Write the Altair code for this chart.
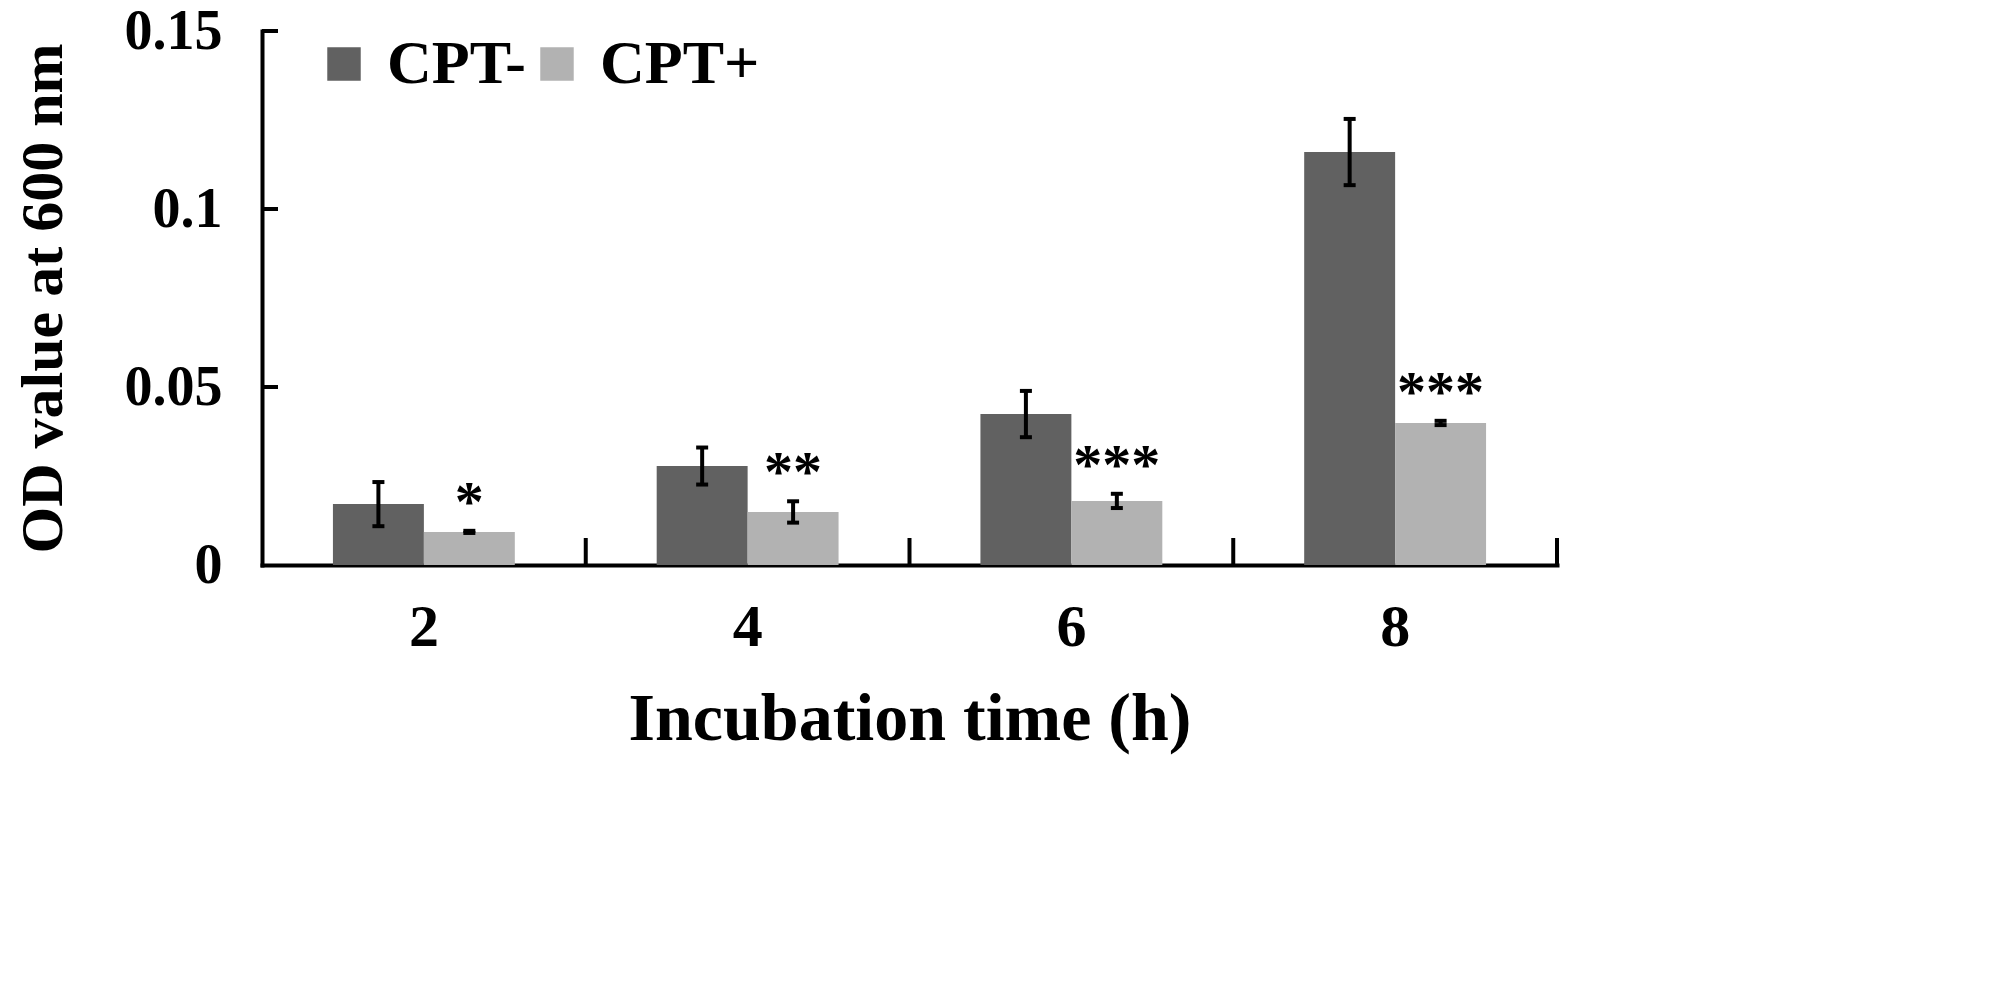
import altair as alt
import pandas as pd

times = ["2", "4", "6", "8"]
groups = ["CPT-", "CPT+"]
cpt_minus = [0.0171, 0.0278, 0.0424, 0.1160]
cpt_minus_err = [0.0062, 0.0052, 0.0065, 0.0093]
cpt_plus = [0.0093, 0.0149, 0.0180, 0.0399]
cpt_plus_err = [0.0003, 0.0030, 0.0020, 0.0006]
stars = ["*", "**", "***", "***"]
y_ticks = [0, 0.05, 0.1, 0.15]
colors = ["#616161", "#b2b2b2"]

FONT = "Liberation Serif"

rows = []
for i, t in enumerate(times):
    rows.append(dict(time=t, group="CPT-", value=cpt_minus[i],
                     lo=cpt_minus[i] - cpt_minus_err[i], hi=cpt_minus[i] + cpt_minus_err[i]))
    rows.append(dict(time=t, group="CPT+", value=cpt_plus[i],
                     lo=cpt_plus[i] - cpt_plus_err[i], hi=cpt_plus[i] + cpt_plus_err[i]))
df = pd.DataFrame(rows)

star_df = pd.DataFrame({
    "time": times,
    "group": ["CPT+"] * len(times),
    "stars": stars,
    "value": [cpt_plus[i] + cpt_plus_err[i] for i in range(len(times))],
})
ytick_df = pd.DataFrame({"value": y_ticks[1:]})
xtick_df = pd.DataFrame({"time": times[1:]})
xend_df = pd.DataFrame({"time": times[-1:]})

x_axis = alt.Axis(
    title="Incubation time (h)", labelAngle=0, ticks=False, grid=False,
    domainWidth=4, domainColor="black",
    labelFont=FONT, labelFontSize=60, labelFontWeight="bold", labelColor="black",
    labelPadding=33,
    titleFont=FONT, titleFontSize=68, titleFontWeight="bold", titleColor="black",
    titlePadding=28,
)
y_axis = alt.Axis(
    title="OD value at 600 nm", values=y_ticks,
    labelExpr="datum.value == 0 ? '0' : format(datum.value, '.2~f')",
    ticks=False, grid=False, labelOverlap=False, labelFlush=False, labelLimit=400,
    domainWidth=4, domainColor="black",
    labelFont=FONT, labelFontSize=56, labelFontWeight="bold", labelColor="black",
    labelPadding=40,
    titleFont=FONT, titleFontSize=60, titleFontWeight="bold", titleColor="black",
    titlePadding=50,
)

x_scale = alt.Scale(domain=times, paddingInner=0, paddingOuter=0)
y_scale = alt.Scale(domain=[0, 0.15], nice=False, zero=True)
x_enc = alt.X("time:N", sort=times, scale=x_scale, axis=x_axis)
y_enc = alt.Y("value:Q", scale=y_scale, axis=y_axis)
xo_enc = alt.XOffset("group:N", sort=groups,
                     scale=alt.Scale(domain=groups, paddingOuter=0.78, paddingInner=0))

bars = alt.Chart(df).mark_bar().encode(
    x=x_enc, xOffset=xo_enc, y=y_enc,
    color=alt.Color(
        "group:N", sort=groups, scale=alt.Scale(domain=groups, range=colors),
        legend=alt.Legend(
            orient="none", legendX=51, legendY=2, direction="horizontal", title=None,
            symbolType="square", symbolSize=1120, symbolStrokeWidth=0, symbolOpacity=1,
            labelFont=FONT, labelFontSize=62, labelFontWeight="bold", labelColor="black",
            labelOffset=12, columnPadding=0, padding=0, labelLimit=400,
        ),
    ),
)

err = alt.Chart(df).mark_rule(strokeWidth=4, color="black").encode(
    x=x_enc, xOffset=xo_enc, y=alt.Y("lo:Q", scale=y_scale, axis=y_axis), y2="hi:Q"
)
cap_lo = alt.Chart(df).mark_tick(color="black", thickness=4, size=12, opacity=1).encode(
    x=x_enc, xOffset=xo_enc, y=alt.Y("lo:Q", scale=y_scale, axis=y_axis)
)
cap_hi = alt.Chart(df).mark_tick(color="black", thickness=4, size=12, opacity=1).encode(
    x=x_enc, xOffset=xo_enc, y=alt.Y("hi:Q", scale=y_scale, axis=y_axis)
)

star_text = alt.Chart(star_df).mark_text(
    font=FONT, fontSize=58, fontWeight="bold", color="black",
    baseline="alphabetic", dy=-10,
).encode(x=x_enc, xOffset=xo_enc, y=y_enc, text="stars:N")

ytick_rules = alt.Chart(ytick_df).mark_rule(strokeWidth=4, color="black").encode(
    y=y_enc, x=alt.value(0), x2=alt.value(16)
)
xtick_rules = alt.Chart(xtick_df).mark_rule(strokeWidth=4, color="black").encode(
    x=alt.X("time:N", sort=times, scale=x_scale, axis=x_axis, bandPosition=0),
    y=alt.value(507), y2=alt.value(534),
)
xend_rule = alt.Chart(xend_df).mark_rule(strokeWidth=4, color="black").encode(
    x=alt.X("time:N", sort=times, scale=x_scale, axis=x_axis, bandPosition=1),
    y=alt.value(507), y2=alt.value(534),
)

chart = alt.layer(
    bars, err, cap_lo, cap_hi, star_text, ytick_rules, xtick_rules, xend_rule
).properties(
    width=1295, height=534,
    padding={"left": 254, "top": 23, "right": 30, "bottom": 220},
    autosize=alt.AutoSizeParams(type="none"),
).configure_view(stroke=None).configure_axis(domainCap="square")

chart.save("out.html", embed_options={"renderer": "svg", "actions": False})
